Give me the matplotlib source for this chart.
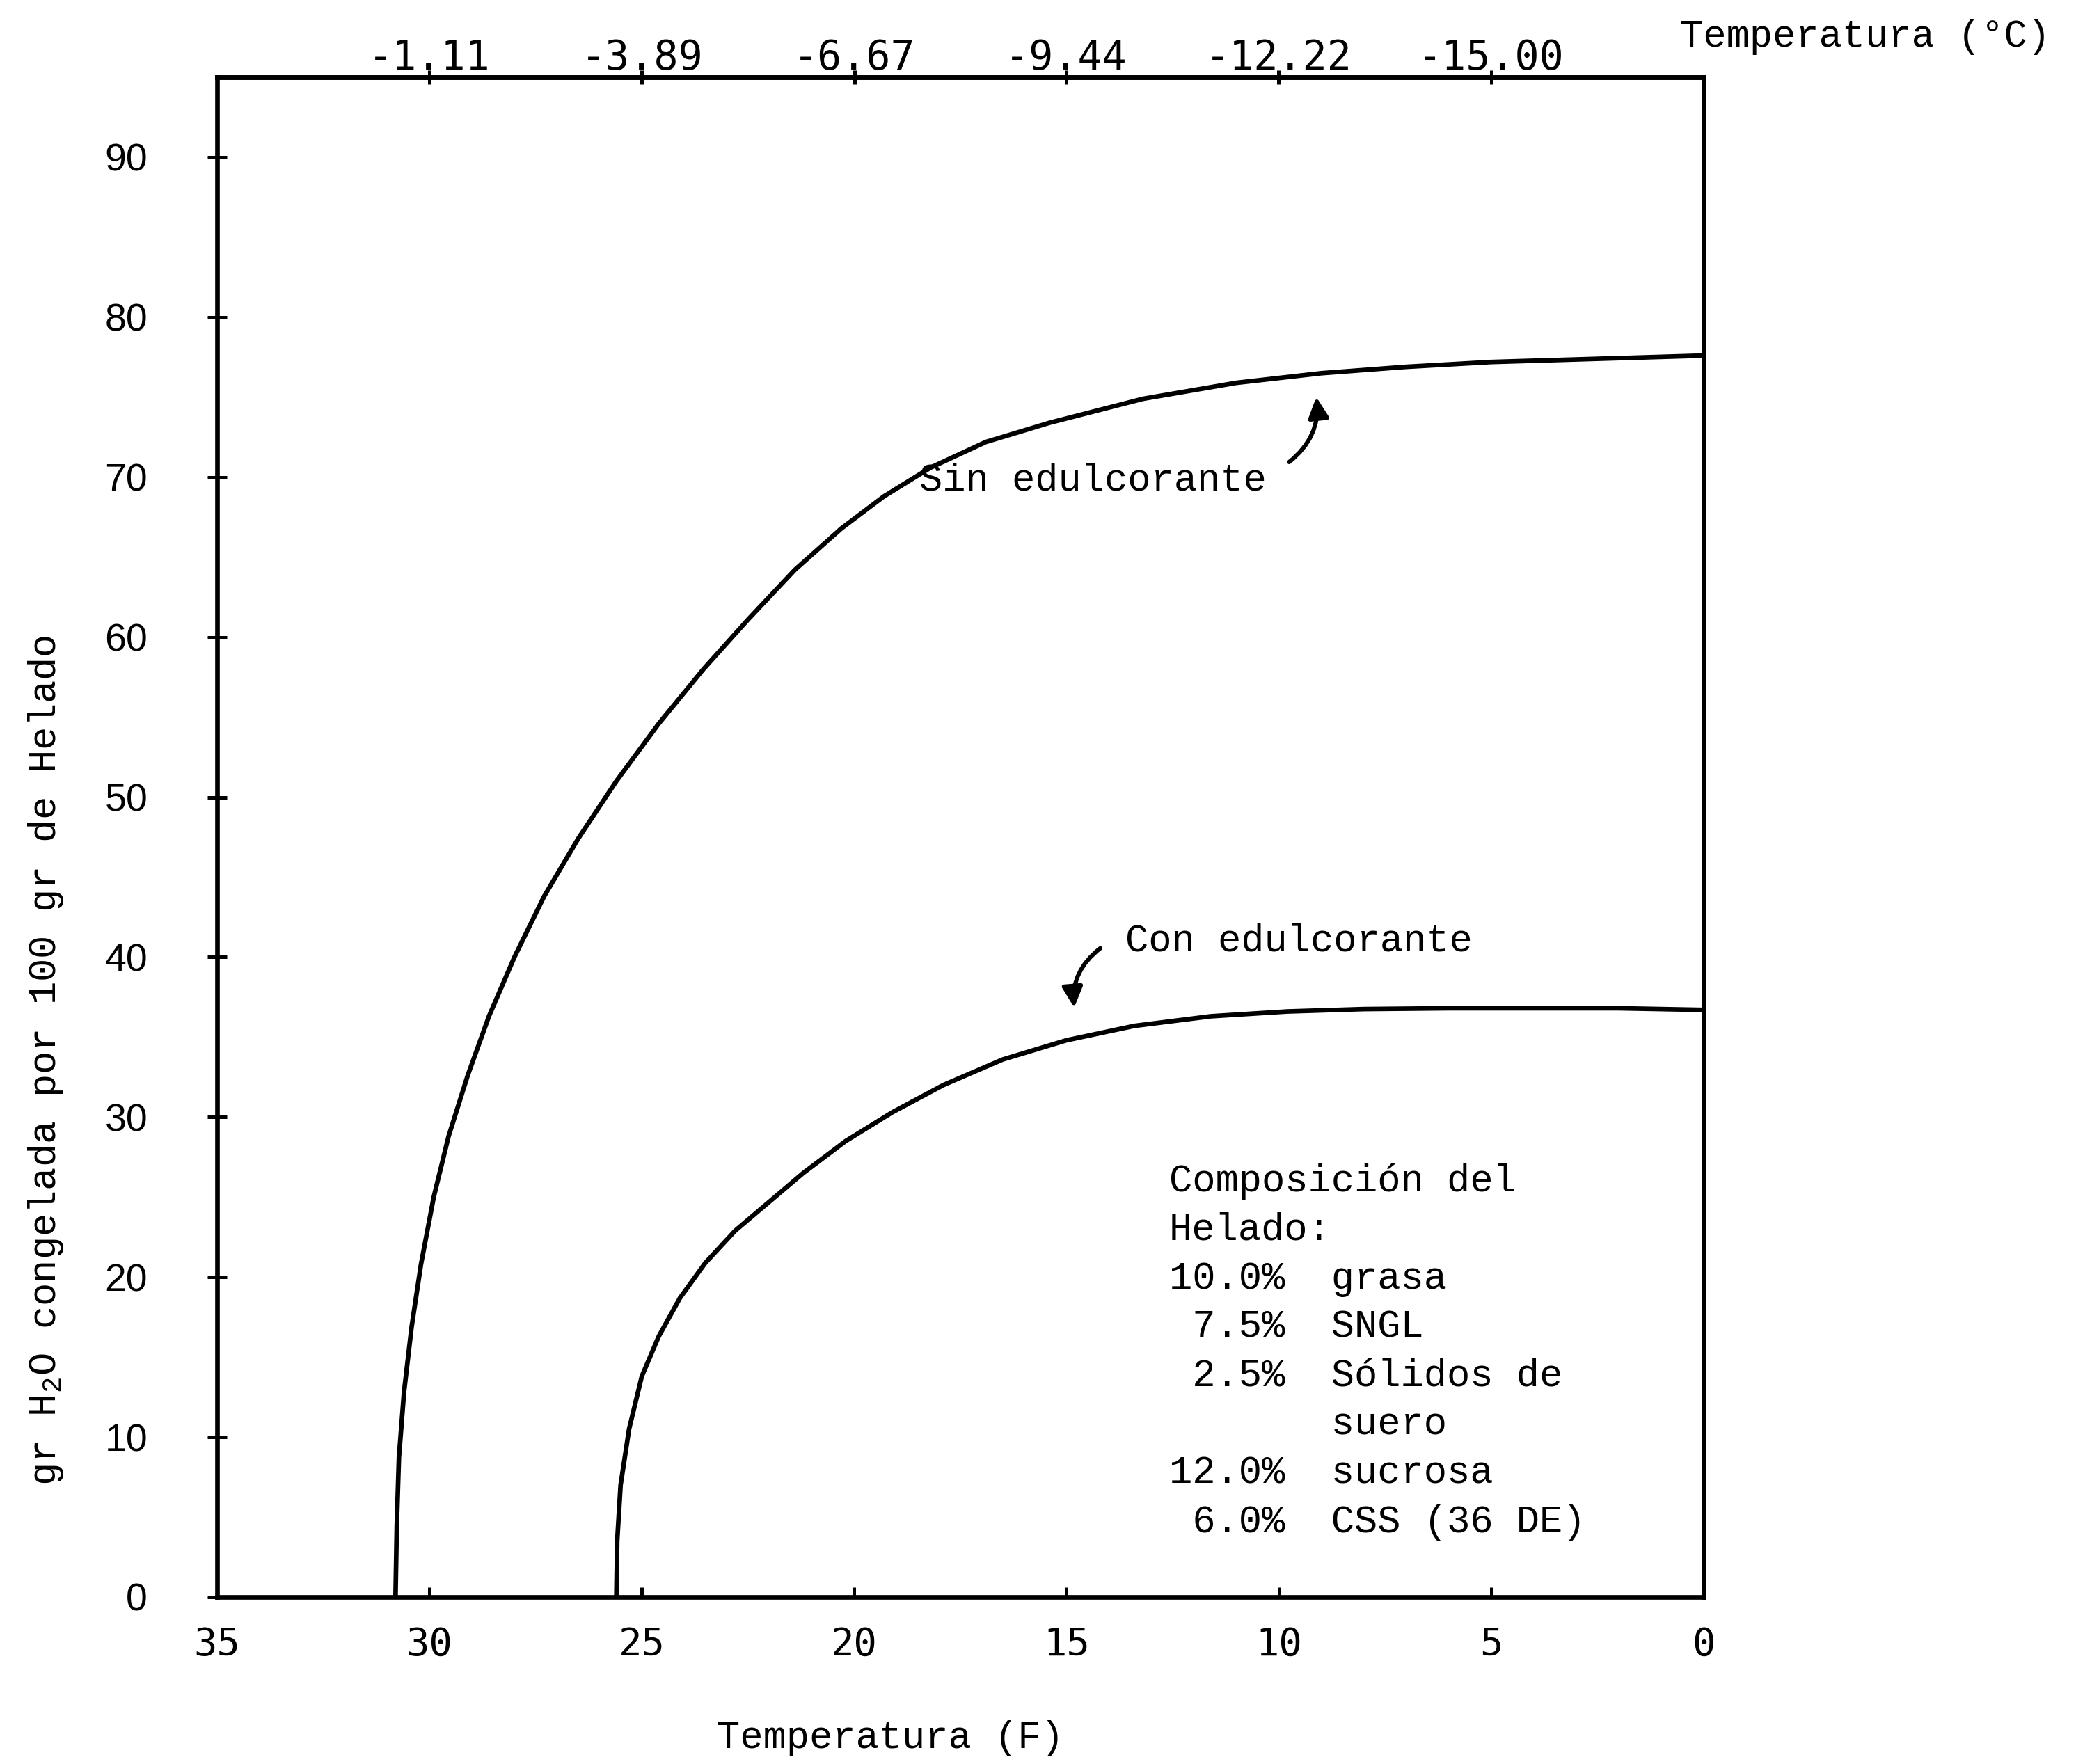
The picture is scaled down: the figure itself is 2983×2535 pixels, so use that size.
import matplotlib
matplotlib.use("Agg")
import matplotlib.pyplot as plt

# valores (temperatura en F, gr de agua congelada)
sin_temp_f = [30.8, 30.77, 30.72, 30.6, 30.42, 30.2, 29.9, 29.55, 29.1, 28.6,
              28.0, 27.3, 26.5, 25.6, 24.6, 23.55, 22.5, 21.4, 20.3, 19.3,
              18.2, 16.9, 15.4, 13.2, 11.0, 9.0, 7.0, 5.0, 2.5, 0.0]
sin_agua = [0, 4.5, 8.7, 12.8, 16.9, 20.8, 25.0, 28.8, 32.6, 36.3,
            40.0, 43.8, 47.4, 51.0, 54.6, 58.0, 61.1, 64.2, 66.8, 68.8,
            70.6, 72.2, 73.4, 74.9, 75.9, 76.5, 76.9, 77.2, 77.4, 77.6]

con_temp_f = [25.6, 25.58, 25.5, 25.3, 25.0, 24.6, 24.1, 23.5, 22.8, 22.0,
              21.2, 20.2, 19.1, 17.9, 16.5, 15.0, 13.4, 11.6, 9.8, 8.0,
              6.0, 4.0, 2.0, 0.0]
con_agua = [0, 3.5, 7.0, 10.5, 13.8, 16.3, 18.7, 20.9, 22.9, 24.7,
            26.5, 28.5, 30.3, 32.0, 33.6, 34.8, 35.7, 36.3, 36.6, 36.75,
            36.8, 36.8, 36.8, 36.7]

f_ticks = [35, 30, 25, 20, 15, 10, 5, 0]
y_ticks = [0, 10, 20, 30, 40, 50, 60, 70, 80, 90]
c_ticks = [-1.11, -3.89, -6.67, -9.44, -12.22, -15.00]

composicion = ["Composición del",
               "Helado:",
               "10.0%  grasa",
               " 7.5%  SNGL",
               " 2.5%  Sólidos de",
               "       suero",
               "12.0%  sucrosa",
               " 6.0%  CSS (36 DE)"]

plt.rcParams["mathtext.fontset"] = "custom"
plt.rcParams["mathtext.rm"] = "Liberation Mono"
plt.rcParams["mathtext.it"] = "Liberation Mono"

mono = "Liberation Mono"

fig = plt.figure(figsize=(14.915, 12.675), dpi=200)
ax = fig.add_axes([0.1046, 0.0947, 0.716, 0.8615])

ax.plot(sin_temp_f, sin_agua, color="black", lw=2.4)
ax.plot(con_temp_f, con_agua, color="black", lw=2.4)

ax.set_xlim(35, 0)
ax.set_ylim(0, 95)
for s in ax.spines.values():
    s.set_linewidth(2.4)

ax.set_xticks(f_ticks)
ax.set_xticklabels([str(t) for t in f_ticks], family="DejaVu Sans Mono", fontsize=20)
ax.tick_params(axis="x", direction="in", length=5, width=1.8, pad=15)
ax.set_yticks(y_ticks)
ax.set_yticklabels([str(t) for t in y_ticks], family="Liberation Sans", fontsize=20)
ax.tick_params(axis="y", direction="inout", length=10, width=1.8, pad=31)

# eje superior en grados Celsius
def f2c(f):
    return (f - 32) * 5 / 9

def c2f(c):
    return c * 9 / 5 + 32

top = ax.secondary_xaxis("top", functions=(f2c, c2f))
top.set_xticks(c_ticks)
top.set_xticklabels(["%.2f" % c for c in c_ticks], family="DejaVu Sans Mono", fontsize=21)
top.tick_params(direction="inout", length=7, width=1.8, pad=-4)
top.spines["top"].set_linewidth(2.4)

# etiquetas de las curvas
ax.text(18.46, 69.2, "Sin edulcorante", family=mono, fontsize=20, ha="left", va="baseline")
ax.annotate("", xy=(9.13, 75.25), xytext=(9.83, 70.8),
            arrowprops=dict(arrowstyle="-|>", connectionstyle="arc3,rad=0.3",
                            lw=2.2, color="black", mutation_scale=22))
ax.text(13.62, 40.4, "Con edulcorante", family=mono, fontsize=20, ha="left", va="baseline")
ax.annotate("", xy=(14.81, 36.6), xytext=(14.13, 40.7),
            arrowprops=dict(arrowstyle="-|>", connectionstyle="arc3,rad=0.3",
                            lw=2.2, color="black", mutation_scale=22))

for i, linea in enumerate(composicion):
    ax.annotate(linea, xy=(12.59, 25.36), xytext=(0, -25.2 * i), textcoords="offset points",
                family=mono, fontsize=20, ha="left", va="baseline")

fig.text(0.4288, 0.009, "Temperatura (F)", family=mono, fontsize=20, ha="center", va="baseline")
fig.text(0.8984, 0.9735, "Temperatura (°C)", family=mono, fontsize=20, ha="center", va="baseline")
fig.text(0.022, 0.399, "gr H$_2$O congelada por 100 gr de Helado", family=mono, fontsize=20,
         rotation=90, ha="center", va="center")

fig.savefig("out.png", dpi=200, facecolor="white")
